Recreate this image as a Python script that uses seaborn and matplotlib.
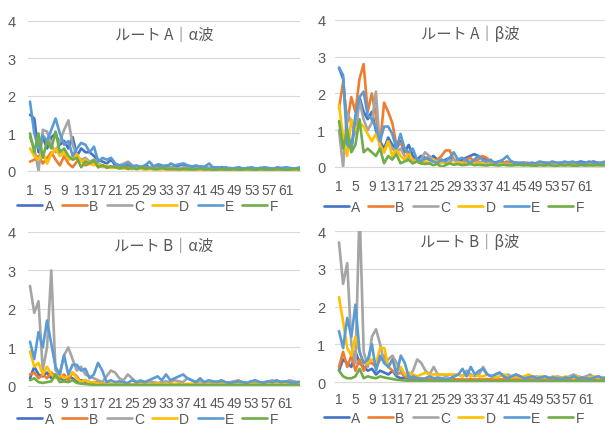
import numpy as np
import pandas as pd
import matplotlib
matplotlib.use("Agg")
import matplotlib.pyplot as plt
import seaborn as sns

# series names and Excel-like colours
series = ["A", "B", "C", "D", "E", "F"]
colors = ["#4472C4", "#ED7D31", "#A5A5A5", "#FFC000", "#5B9BD5", "#70AD47"]
tick_pos = [1, 5, 9, 13, 17, 21, 25, 29, 33, 37, 41, 45, 49, 53, 57, 61]

# ---- Route A, alpha wave
ra_alpha_A = [1.50, 1.40, 0.50, 0.90, 0.60, 0.90, 1.00, 0.70, 0.80, 0.60, 0.90,
              0.40, 0.60, 0.50, 0.50, 0.40, 0.30, 0.25, 0.20, 0.30, 0.15, 0.15,
              0.10, 0.15, 0.10, 0.12, 0.10, 0.15, 0.10, 0.12, 0.15, 0.10, 0.15,
              0.10, 0.12, 0.15, 0.18, 0.12, 0.10, 0.10, 0.12, 0.10, 0.08, 0.10,
              0.08, 0.10, 0.06, 0.08, 0.05, 0.07, 0.06, 0.08, 0.05, 0.06, 0.08,
              0.05, 0.07, 0.06, 0.08, 0.06, 0.05, 0.07, 0.06, 0.08, 0.06, 0.07]
ra_alpha_B = [0.25, 0.30, 0.40, 0.20, 0.35, 0.50, 0.30, 0.15, 0.40, 0.20, 0.10,
              0.25, 0.30, 0.15, 0.20, 0.25, 0.10, 0.15, 0.08, 0.10, 0.12, 0.06,
              0.08, 0.10, 0.05, 0.08, 0.06, 0.05, 0.07, 0.05, 0.04, 0.06, 0.05,
              0.04, 0.05, 0.06, 0.04, 0.05, 0.03, 0.04, 0.05, 0.03, 0.04, 0.03,
              0.05, 0.04, 0.03, 0.04, 0.03, 0.05, 0.04, 0.03, 0.04, 0.03, 0.04,
              0.05, 0.03, 0.04, 0.03, 0.04, 0.03, 0.05, 0.04, 0.03, 0.04, 0.03]
ra_alpha_C = [0.90, 0.60, 0.00, 1.10, 1.05, 0.70, 0.50, 0.80, 1.10, 1.35, 0.70,
              0.40, 0.30, 0.35, 0.25, 0.30, 0.20, 0.15, 0.10, 0.12, 0.10, 0.15,
              0.20, 0.25, 0.15, 0.10, 0.12, 0.08, 0.10, 0.12, 0.08, 0.10, 0.06,
              0.10, 0.08, 0.06, 0.10, 0.08, 0.05, 0.07, 0.06, 0.05, 0.08, 0.04,
              0.06, 0.05, 0.04, 0.06, 0.05, 0.04, 0.06, 0.05, 0.04, 0.05, 0.06,
              0.04, 0.05, 0.04, 0.06, 0.05, 0.04, 0.05, 0.06, 0.04, 0.05, 0.04]
ra_alpha_D = [0.60, 0.40, 0.30, 0.50, 0.20, 0.45, 0.60, 0.40, 0.50, 0.30, 0.35,
              0.45, 0.25, 0.30, 0.20, 0.15, 0.20, 0.10, 0.15, 0.08, 0.10, 0.06,
              0.08, 0.05, 0.07, 0.05, 0.06, 0.04, 0.05, 0.06, 0.04, 0.05, 0.04,
              0.06, 0.05, 0.04, 0.05, 0.04, 0.03, 0.05, 0.04, 0.03, 0.04, 0.05,
              0.03, 0.04, 0.03, 0.05, 0.04, 0.03, 0.04, 0.03, 0.05, 0.04, 0.03,
              0.04, 0.05, 0.03, 0.04, 0.03, 0.04, 0.05, 0.03, 0.04, 0.03, 0.04]
ra_alpha_E = [1.85, 1.00, 0.60, 0.95, 0.80, 1.10, 1.40, 1.00, 0.70, 0.80, 0.40,
              0.60, 0.75, 0.70, 0.50, 0.65, 0.25, 0.35, 0.30, 0.35, 0.20, 0.15,
              0.15, 0.20, 0.12, 0.15, 0.10, 0.15, 0.25, 0.12, 0.18, 0.15, 0.12,
              0.20, 0.15, 0.18, 0.20, 0.15, 0.12, 0.15, 0.10, 0.12, 0.20, 0.08,
              0.10, 0.08, 0.10, 0.06, 0.08, 0.10, 0.06, 0.08, 0.10, 0.06, 0.08,
              0.10, 0.08, 0.06, 0.10, 0.08, 0.10, 0.08, 0.06, 0.09, 0.08, 0.10]
ra_alpha_F = [1.00, 0.50, 1.00, 0.35, 0.80, 0.60, 1.05, 0.50, 0.60, 0.40, 0.30,
              0.35, 0.10, 0.25, 0.20, 0.30, 0.10, 0.15, 0.10, 0.12, 0.10, 0.08,
              0.10, 0.06, 0.08, 0.05, 0.10, 0.06, 0.08, 0.05, 0.06, 0.08, 0.05,
              0.06, 0.05, 0.04, 0.06, 0.05, 0.04, 0.05, 0.06, 0.04, 0.05, 0.03,
              0.04, 0.05, 0.03, 0.04, 0.05, 0.03, 0.04, 0.05, 0.04, 0.03, 0.05,
              0.04, 0.03, 0.04, 0.05, 0.04, 0.03, 0.04, 0.05, 0.04, 0.03, 0.04]

# ---- Route A, beta wave
ra_beta_A = [2.70, 2.40, 1.00, 0.50, 1.20, 1.90, 1.50, 1.30, 1.50, 1.00, 0.70,
             0.50, 0.80, 0.60, 0.50, 0.70, 0.40, 0.60, 0.30, 0.20, 0.30, 0.25,
             0.20, 0.30, 0.20, 0.15, 0.20, 0.25, 0.20, 0.15, 0.20, 0.25, 0.30,
             0.35, 0.30, 0.25, 0.20, 0.15, 0.12, 0.15, 0.12, 0.10, 0.15, 0.12,
             0.10, 0.12, 0.08, 0.10, 0.08, 0.10, 0.12, 0.10, 0.08, 0.10, 0.12,
             0.10, 0.12, 0.10, 0.12, 0.15, 0.12, 0.10, 0.15, 0.12, 0.10, 0.12]
ra_beta_B = [1.60, 2.30, 1.20, 1.90, 1.50, 2.40, 2.80, 1.50, 2.00, 1.40, 0.60,
             1.75, 1.50, 1.20, 0.60, 0.65, 0.50, 0.30, 0.20, 0.15, 0.10, 0.20,
             0.30, 0.15, 0.20, 0.30, 0.45, 0.45, 0.20, 0.15, 0.10, 0.20, 0.25,
             0.15, 0.20, 0.30, 0.25, 0.15, 0.10, 0.12, 0.10, 0.15, 0.10, 0.12,
             0.08, 0.10, 0.12, 0.08, 0.10, 0.08, 0.10, 0.12, 0.08, 0.10, 0.08,
             0.10, 0.08, 0.10, 0.12, 0.08, 0.10, 0.08, 0.10, 0.12, 0.08, 0.10]
ra_beta_C = [1.00, 0.00, 1.50, 1.20, 0.90, 1.80, 1.30, 1.00, 1.20, 2.05, 0.50,
             0.40, 0.70, 0.50, 0.40, 0.50, 0.30, 0.20, 0.10, 0.15, 0.20, 0.40,
             0.30, 0.20, 0.15, 0.20, 0.10, 0.15, 0.20, 0.15, 0.10, 0.12, 0.15,
             0.10, 0.12, 0.15, 0.10, 0.08, 0.10, 0.12, 0.08, 0.10, 0.06, 0.08,
             0.10, 0.06, 0.08, 0.06, 0.08, 0.06, 0.05, 0.08, 0.06, 0.05, 0.06,
             0.08, 0.06, 0.05, 0.06, 0.08, 0.06, 0.05, 0.06, 0.08, 0.06, 0.05]
ra_beta_D = [1.70, 0.80, 0.30, 1.30, 1.00, 1.20, 1.10, 0.90, 0.70, 0.90, 0.60,
             0.40, 0.70, 0.30, 0.50, 0.30, 0.20, 0.40, 0.15, 0.20, 0.10, 0.15,
             0.10, 0.20, 0.12, 0.10, 0.15, 0.10, 0.08, 0.12, 0.10, 0.08, 0.12,
             0.10, 0.08, 0.10, 0.06, 0.08, 0.10, 0.06, 0.08, 0.05, 0.07, 0.06,
             0.05, 0.07, 0.06, 0.05, 0.06, 0.07, 0.05, 0.06, 0.05, 0.07, 0.06,
             0.05, 0.06, 0.05, 0.07, 0.06, 0.05, 0.06, 0.07, 0.05, 0.06, 0.05]
ra_beta_E = [2.70, 2.50, 0.60, 0.50, 1.40, 1.90, 2.05, 1.40, 1.30, 1.10, 0.70,
             1.10, 1.10, 0.90, 0.50, 0.90, 0.50, 0.40, 0.50, 0.20, 0.15, 0.25,
             0.20, 0.15, 0.10, 0.20, 0.15, 0.25, 0.40, 0.20, 0.25, 0.20, 0.10,
             0.20, 0.30, 0.20, 0.15, 0.20, 0.10, 0.15, 0.20, 0.30, 0.15, 0.10,
             0.12, 0.10, 0.08, 0.12, 0.10, 0.15, 0.12, 0.10, 0.15, 0.12, 0.10,
             0.15, 0.12, 0.15, 0.10, 0.12, 0.10, 0.15, 0.12, 0.10, 0.12, 0.15]
ra_beta_F = [1.25, 0.50, 1.00, 0.40, 0.60, 1.30, 0.40, 0.50, 0.40, 0.30, 0.50,
             0.10, 0.30, 0.20, 0.35, 0.10, 0.15, 0.20, 0.10, 0.15, 0.10, 0.08,
             0.10, 0.05, 0.08, 0.00, 0.05, 0.10, 0.06, 0.08, 0.05, 0.06, 0.08,
             0.05, 0.06, 0.05, 0.04, 0.06, 0.05, 0.04, 0.06, 0.05, 0.04, 0.05,
             0.06, 0.04, 0.05, 0.04, 0.03, 0.05, 0.04, 0.05, 0.04, 0.03, 0.05,
             0.04, 0.05, 0.04, 0.03, 0.05, 0.04, 0.05, 0.04, 0.05, 0.04, 0.05]

# ---- Route B, alpha wave
rb_alpha_A = [0.20, 0.50, 0.30, 0.25, 0.35, 0.20, 0.30, 0.20, 0.15, 0.25, 0.20,
              0.10, 0.15, 0.10, 0.08, 0.10, 0.06, 0.05, 0.06, 0.05, 0.04, 0.05,
              0.04, 0.03, 0.04, 0.03, 0.04, 0.03, 0.04, 0.03, 0.04, 0.03, 0.04,
              0.03, 0.04, 0.03, 0.04, 0.03, 0.04, 0.03, 0.04, 0.03, 0.04, 0.03,
              0.04, 0.03, 0.04, 0.03, 0.04, 0.03, 0.04, 0.03, 0.04, 0.03, 0.04,
              0.03, 0.04, 0.03, 0.04, 0.03, 0.04, 0.03, 0.04, 0.03, 0.04, 0.03]
rb_alpha_B = [0.30, 0.35, 0.20, 0.30, 0.20, 0.35, 0.25, 0.20, 0.30, 0.15, 0.35,
              0.25, 0.10, 0.15, 0.10, 0.08, 0.10, 0.05, 0.06, 0.05, 0.04, 0.05,
              0.04, 0.05, 0.04, 0.05, 0.04, 0.05, 0.04, 0.05, 0.04, 0.05, 0.04,
              0.05, 0.04, 0.05, 0.04, 0.05, 0.04, 0.05, 0.04, 0.05, 0.04, 0.05,
              0.04, 0.05, 0.04, 0.05, 0.04, 0.05, 0.04, 0.05, 0.04, 0.05, 0.04,
              0.05, 0.04, 0.05, 0.04, 0.05, 0.04, 0.05, 0.04, 0.05, 0.04, 0.05]
rb_alpha_C = [2.60, 1.90, 2.20, 0.40, 1.00, 3.00, 0.40, 0.30, 0.80, 1.00, 0.70,
              0.40, 0.50, 0.30, 0.25, 0.20, 0.15, 0.10, 0.25, 0.40, 0.35, 0.20,
              0.15, 0.30, 0.20, 0.10, 0.15, 0.10, 0.12, 0.10, 0.08, 0.10, 0.12,
              0.10, 0.15, 0.12, 0.10, 0.20, 0.15, 0.10, 0.12, 0.10, 0.08, 0.10,
              0.12, 0.10, 0.08, 0.10, 0.12, 0.15, 0.10, 0.08, 0.12, 0.10, 0.08,
              0.10, 0.12, 0.15, 0.10, 0.12, 0.10, 0.15, 0.12, 0.10, 0.08, 0.10]
rb_alpha_D = [0.90, 0.50, 0.60, 0.30, 0.50, 0.30, 0.20, 0.30, 0.20, 0.25, 0.35,
              0.20, 0.10, 0.15, 0.08, 0.10, 0.06, 0.05, 0.06, 0.05, 0.04, 0.05,
              0.04, 0.05, 0.04, 0.05, 0.06, 0.05, 0.04, 0.05, 0.06, 0.05, 0.04,
              0.05, 0.06, 0.05, 0.04, 0.05, 0.06, 0.05, 0.04, 0.05, 0.04, 0.05,
              0.04, 0.05, 0.04, 0.05, 0.04, 0.05, 0.04, 0.05, 0.04, 0.05, 0.04,
              0.05, 0.04, 0.05, 0.04, 0.05, 0.04, 0.05, 0.04, 0.05, 0.04, 0.05]
rb_alpha_E = [1.15, 0.70, 1.40, 1.00, 1.70, 1.10, 0.50, 0.30, 0.80, 0.30, 0.55,
              0.55, 0.40, 0.45, 0.20, 0.30, 0.60, 0.40, 0.10, 0.15, 0.10, 0.12,
              0.10, 0.08, 0.15, 0.10, 0.12, 0.10, 0.15, 0.20, 0.25, 0.15, 0.30,
              0.15, 0.20, 0.25, 0.30, 0.20, 0.15, 0.10, 0.20, 0.10, 0.15, 0.12,
              0.10, 0.15, 0.10, 0.08, 0.10, 0.12, 0.10, 0.08, 0.12, 0.15, 0.10,
              0.08, 0.12, 0.10, 0.15, 0.10, 0.12, 0.10, 0.08, 0.10, 0.12, 0.10]
rb_alpha_F = [0.15, 0.20, 0.10, 0.08, 0.10, 0.12, 0.30, 0.10, 0.12, 0.10, 0.15,
              0.08, 0.06, 0.05, 0.04, 0.03, 0.02, 0.03, 0.02, 0.03, 0.02, 0.03,
              0.02, 0.03, 0.02, 0.03, 0.02, 0.03, 0.02, 0.03, 0.02, 0.03, 0.02,
              0.03, 0.02, 0.03, 0.02, 0.03, 0.02, 0.03, 0.02, 0.03, 0.02, 0.03,
              0.02, 0.03, 0.02, 0.03, 0.02, 0.03, 0.02, 0.03, 0.02, 0.03, 0.02,
              0.03, 0.02, 0.03, 0.02, 0.03, 0.02, 0.03, 0.02, 0.03, 0.02, 0.03]

# ---- Route B, beta wave
rb_beta_A = [0.30, 0.60, 0.50, 0.40, 0.80, 0.50, 0.40, 0.30, 0.35, 0.20, 0.30,
             0.25, 0.20, 0.30, 0.15, 0.10, 0.12, 0.08, 0.10, 0.06, 0.05, 0.06,
             0.05, 0.06, 0.05, 0.06, 0.05, 0.06, 0.05, 0.06, 0.05, 0.06, 0.05,
             0.06, 0.05, 0.06, 0.05, 0.06, 0.05, 0.06, 0.05, 0.06, 0.05, 0.06,
             0.05, 0.06, 0.05, 0.06, 0.05, 0.06, 0.05, 0.06, 0.05, 0.06, 0.05,
             0.06, 0.05, 0.06, 0.05, 0.06, 0.05, 0.06, 0.05, 0.06, 0.05, 0.06]
rb_beta_B = [0.40, 0.80, 0.40, 0.70, 0.30, 0.60, 0.30, 0.50, 0.50, 0.40, 0.60,
             0.70, 0.40, 0.30, 0.20, 0.25, 0.15, 0.10, 0.12, 0.08, 0.10, 0.06,
             0.07, 0.06, 0.08, 0.06, 0.07, 0.06, 0.08, 0.06, 0.07, 0.06, 0.08,
             0.06, 0.07, 0.06, 0.08, 0.06, 0.07, 0.06, 0.08, 0.06, 0.07, 0.06,
             0.08, 0.06, 0.07, 0.06, 0.08, 0.06, 0.07, 0.06, 0.08, 0.06, 0.07,
             0.06, 0.08, 0.06, 0.07, 0.06, 0.08, 0.06, 0.07, 0.06, 0.08, 0.06]
rb_beta_C = [3.70, 2.60, 3.15, 1.00, 0.50, 4.60, 0.80, 0.40, 1.20, 1.40, 1.00,
             0.50, 0.60, 0.70, 0.50, 0.30, 0.20, 0.15, 0.30, 0.60, 0.50, 0.30,
             0.20, 0.40, 0.20, 0.20, 0.15, 0.20, 0.15, 0.20, 0.15, 0.30, 0.20,
             0.15, 0.20, 0.40, 0.20, 0.15, 0.20, 0.25, 0.15, 0.20, 0.15, 0.20,
             0.15, 0.10, 0.15, 0.12, 0.15, 0.10, 0.15, 0.12, 0.10, 0.15, 0.12,
             0.10, 0.15, 0.20, 0.15, 0.12, 0.15, 0.20, 0.12, 0.15, 0.10, 0.12]
rb_beta_D = [2.25, 1.60, 0.90, 0.70, 1.20, 0.80, 0.50, 0.50, 0.60, 0.50, 0.90,
             0.90, 0.40, 0.60, 0.30, 0.40, 0.20, 0.25, 0.20, 0.15, 0.20, 0.25,
             0.20, 0.20, 0.20, 0.20, 0.20, 0.20, 0.20, 0.20, 0.15, 0.20, 0.15,
             0.20, 0.15, 0.15, 0.20, 0.15, 0.12, 0.15, 0.20, 0.15, 0.12, 0.15,
             0.12, 0.15, 0.20, 0.15, 0.12, 0.15, 0.12, 0.10, 0.15, 0.12, 0.10,
             0.15, 0.12, 0.10, 0.15, 0.12, 0.10, 0.12, 0.15, 0.10, 0.12, 0.10]
rb_beta_E = [1.35, 0.90, 1.70, 1.20, 2.05, 0.80, 0.50, 0.60, 1.00, 0.30, 0.70,
             0.50, 0.40, 0.60, 0.20, 0.70, 0.50, 0.10, 0.15, 0.10, 0.08, 0.10,
             0.15, 0.10, 0.12, 0.10, 0.08, 0.10, 0.15, 0.20, 0.35, 0.15, 0.40,
             0.20, 0.30, 0.35, 0.20, 0.15, 0.20, 0.25, 0.15, 0.10, 0.15, 0.20,
             0.15, 0.10, 0.12, 0.15, 0.10, 0.12, 0.15, 0.10, 0.12, 0.10, 0.08,
             0.12, 0.10, 0.15, 0.10, 0.12, 0.10, 0.08, 0.12, 0.15, 0.10, 0.12]
rb_beta_F = [0.30, 0.15, 0.10, 0.10, 0.15, 0.35, 0.10, 0.15, 0.12, 0.10, 0.15,
             0.12, 0.10, 0.08, 0.06, 0.05, 0.04, 0.03, 0.03, 0.02, 0.03, 0.02,
             0.03, 0.02, 0.03, 0.02, 0.03, 0.02, 0.03, 0.02, 0.03, 0.02, 0.03,
             0.02, 0.03, 0.02, 0.03, 0.02, 0.03, 0.02, 0.03, 0.02, 0.03, 0.02,
             0.03, 0.02, 0.03, 0.02, 0.03, 0.02, 0.03, 0.02, 0.03, 0.02, 0.03,
             0.02, 0.03, 0.02, 0.03, 0.02, 0.03, 0.02, 0.03, 0.02, 0.03, 0.02]

titles = ["ルート A｜α波", "ルート A｜β波", "ルート B｜α波", "ルート B｜β波"]
panel_data = [
    [ra_alpha_A, ra_alpha_B, ra_alpha_C, ra_alpha_D, ra_alpha_E, ra_alpha_F],
    [ra_beta_A, ra_beta_B, ra_beta_C, ra_beta_D, ra_beta_E, ra_beta_F],
    [rb_alpha_A, rb_alpha_B, rb_alpha_C, rb_alpha_D, rb_alpha_E, rb_alpha_F],
    [rb_beta_A, rb_beta_B, rb_beta_C, rb_beta_D, rb_beta_E, rb_beta_F],
]

sns.set_style("white")
plt.rcParams['font.family'] = ['Liberation Sans Narrow', 'Liberation Sans', 'Noto Sans CJK JP']
txt = "#595959"

fig = plt.figure(figsize=(6.05, 4.27), dpi=100)

# axes rects (fig fraction), x-limits, title y, legend y, tick pads
rects = [[0.0463, 0.5972, 0.4496, 0.3513],
         [0.5537, 0.6066, 0.4463, 0.3443],
         [0.0463, 0.0937, 0.4496, 0.3607],
         [0.5537, 0.1030, 0.4463, 0.3536]]
xlims = [(0.53, 64.3), (0.02, 65.9), (0.53, 64.5), (0.03, 65.6)]
title_y = [0.91, 0.905, 0.91, 0.93]
legend_y = [-0.235, -0.27, -0.215, -0.24]
ypads = [9, 7, 9, 7]
xpads = [9, 9, 7.5, 7.5]

for i in range(4):
    ax = fig.add_axes(rects[i])
    rows = []
    for name, vals in zip(series, panel_data[i]):
        for k, v in enumerate(vals):
            rows.append({"x": k + 1, "value": v, "series": name})
    df = pd.DataFrame(rows)
    sns.lineplot(data=df, x="x", y="value", hue="series", palette=colors,
                 linewidth=1.9, ax=ax, sort=False)
    ax.set_xlim(*xlims[i])
    ax.set_ylim(0, 4)
    ax.set_yticks([0, 1, 2, 3, 4])
    ax.set_xticks(tick_pos)
    ax.set_xticklabels([str(t) for t in tick_pos])
    ax.set_xlabel("")
    ax.set_ylabel("")
    ax.yaxis.grid(True, color="#d9d9d9", linewidth=0.8)
    ax.set_axisbelow(True)
    for s in ["top", "right", "left"]:
        ax.spines[s].set_visible(False)
    ax.spines["bottom"].set_color("#d9d9d9")
    ax.tick_params(axis="x", length=0, pad=xpads[i], labelsize=10, labelcolor=txt)
    ax.tick_params(axis="y", length=0, pad=ypads[i], labelsize=10.5, labelcolor=txt)
    ax.text(0.5, title_y[i], titles[i], transform=ax.transAxes, ha="center",
            va="center", fontsize=11, color=txt,
            family=['Noto Sans CJK JP', 'DejaVu Sans'])
    sns.move_legend(ax, "center", bbox_to_anchor=(0.44, legend_y[i]), ncol=6,
                    frameon=False, title=None, handlelength=1.8,
                    handletextpad=0.15, columnspacing=0.6, fontsize=10,
                    labelcolor=txt)

fig.savefig("out.png", dpi=100)
